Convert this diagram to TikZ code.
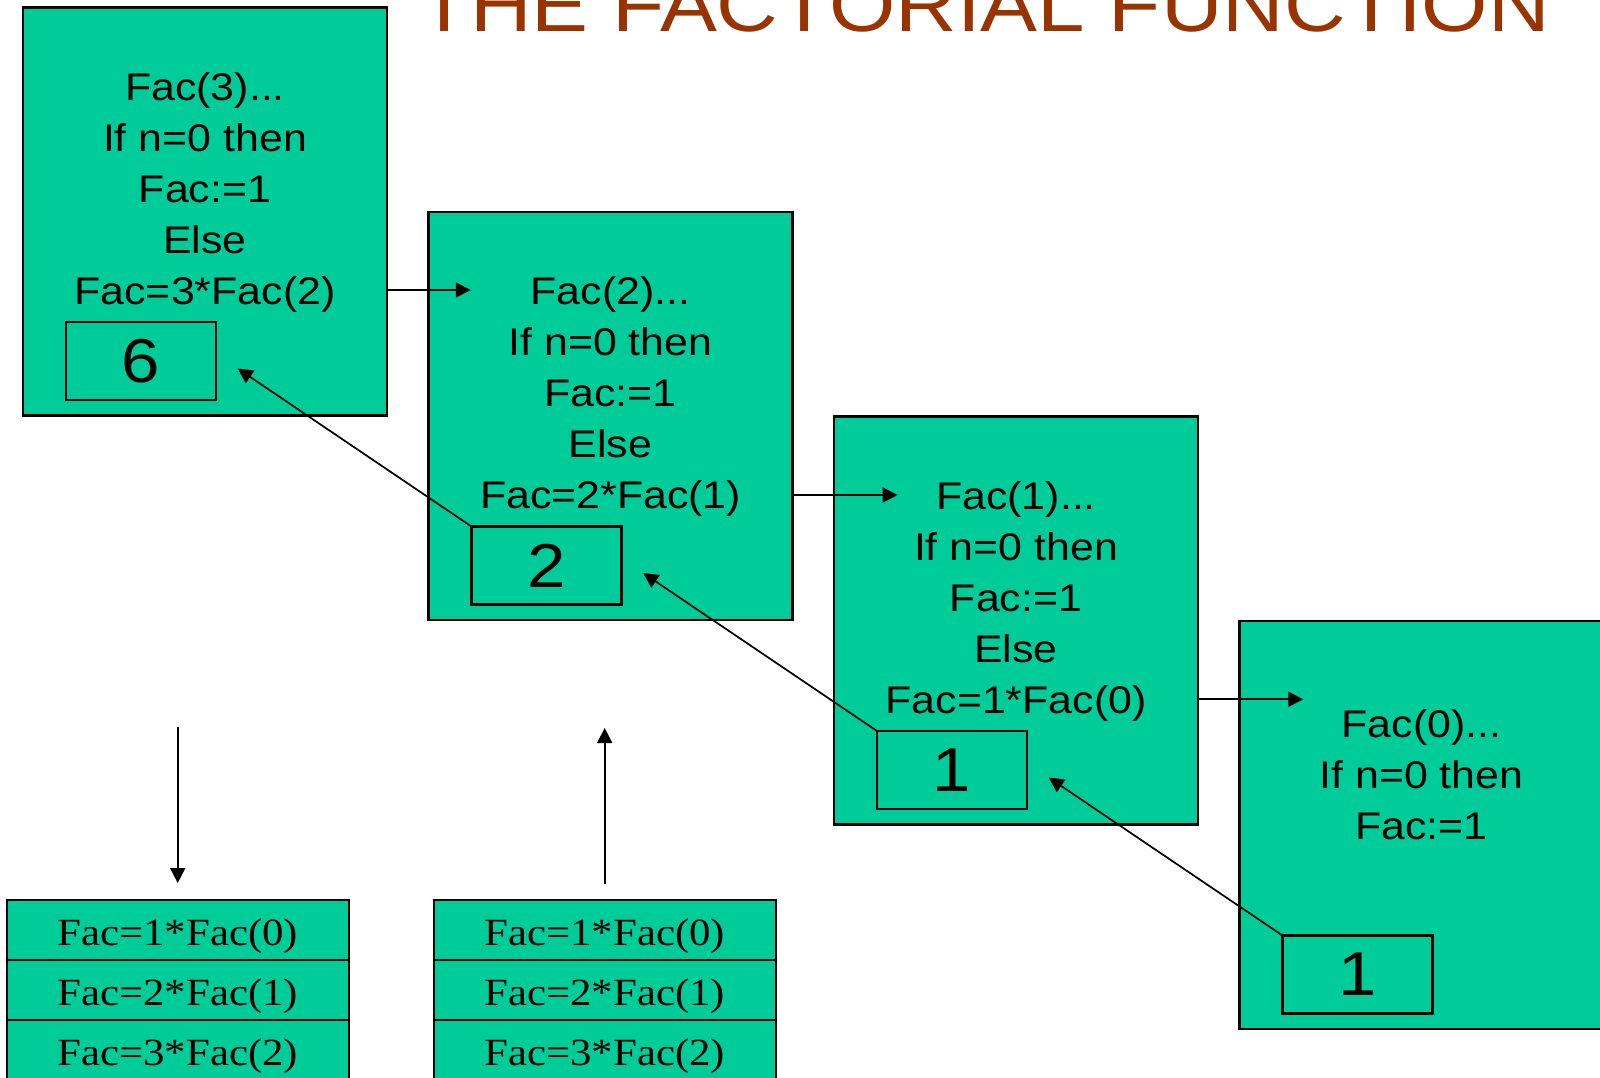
\documentclass[tikz,border=0pt]{standalone}
\usepackage{fontspec}
\usetikzlibrary{positioning,arrows.meta}
\newfontfamily\slidesans[FakeStretch=1.114]{Liberation Sans}
\newfontfamily\slideserif[FakeStretch=1.114]{Liberation Serif}
\definecolor{slidegreen}{HTML}{00CC99}
\definecolor{titlebrown}{HTML}{993300}
\tikzset{
  frame/.style={draw,rectangle,line width=2.2pt,fill=slidegreen,minimum width=364pt,minimum height=408pt,inner sep=0pt,outer sep=0pt,anchor=north west},
  result/.style={draw,rectangle,line width=2.2pt,minimum width=150pt,minimum height=78pt,inner sep=0pt,outer sep=0pt,anchor=north west,font=\slidesans\fontsize{62}{62}\selectfont},
  code/.style={align=center,anchor=base,inner sep=0pt,font=\slidesans\fontsize{38.5}{51}\selectfont},
  stackrow/.style={draw,rectangle,line width=2.2pt,fill=slidegreen,minimum width=342pt,minimum height=60pt,inner sep=0pt,outer sep=0pt,text height=30pt,text depth=0pt,font=\slideserif\fontsize{38.5}{40}\selectfont}
}
\begin{document}
\begin{tikzpicture}[x=1pt,y=-1pt,line width=1.7pt,>={Triangle[length=15pt,width=15pt]}]
\useasboundingbox (0,0) rectangle (1600,1077);
\clip (0,0) rectangle (1600,1077);
\fill[white] (0,0) rectangle (1600,1077);
\node (title) [anchor=base,inner sep=0pt,text=titlebrown,font=\slidesans\fontsize{76.6}{80}\selectfont] at (984,31) {THE FACTORIAL FUNCTION};

% the four calls
\node (f3) [frame] at (23,7.5) {};
\node (f2) [frame] at ([shift={(405.5,204.5)}]f3.north west) {};
\node (f1) [frame] at ([shift={(405.5,204.5)}]f2.north west) {};
\node (f0) [frame] at ([shift={(405.5,204.5)}]f1.north west) {};

% base = last line
\node (code3) [code] at ([shift={(0,296.5)}]f3.north) {Fac(3)...\\If n=0 then\\Fac:=1\\Else\\Fac=3*Fac(2)};
\node (code2) [code] at ([shift={(0,296.5)}]f2.north) {Fac(2)...\\If n=0 then\\Fac:=1\\Else\\Fac=2*Fac(1)};
\node (code1) [code] at ([shift={(0,296.5)}]f1.north) {Fac(1)...\\If n=0 then\\Fac:=1\\Else\\Fac=1*Fac(0)};
\node (code0) [code] at ([shift={(0,218.7)}]f0.north) {Fac(0)...\\If n=0 then\\Fac:=1};

\node (r3) [result] at ([shift={(43,314.5)}]f3.north west) {6};
\node (r2) [result] at ([shift={(43,314.5)}]f2.north west) {2};
\node (r1) [result] at ([shift={(43,314.5)}]f1.north west) {1};
\node (r0) [result] at ([shift={(43,314.5)}]f0.north west) {1};

% calls going in
\coordinate (in2) at ([shift={(42.3,78)}]f2.north west);
\coordinate (in1) at ([shift={(63.7,78.5)}]f1.north west);
\coordinate (in0) at ([shift={(63.8,78.3)}]f0.north west);
\draw [->] (f3.east |- in2) -- (in2);
\draw [->] (f2.east |- in1) -- (in1);
\draw [->] (f1.east |- in0) -- (in0);

% values coming back
\coordinate (back3) at ([shift={(21.7,7.5)}]r3.east);
\coordinate (back2) at ([shift={(21.7,7.5)}]r2.east);
\coordinate (back1) at ([shift={(21.7,7.5)}]r1.east);
\draw [->] (r2.north west) -- (back3);
\draw [->] (r1.north west) -- (back2);
\draw [->] (r0.north west) -- (back1);

% the stack
\node (sa1) [stackrow,anchor=north west] at (6.7,900) {Fac=1*Fac(0)};
\node (sa2) [stackrow,below=0pt of sa1] {Fac=2*Fac(1)};
\node (sa3) [stackrow,below=0pt of sa2] {Fac=3*Fac(2)};
\node (sb1) [stackrow,anchor=north west] at (433.7,900) {Fac=1*Fac(0)};
\node (sb2) [stackrow,below=0pt of sb1] {Fac=2*Fac(1)};
\node (sb3) [stackrow,below=0pt of sb2] {Fac=3*Fac(2)};

\coordinate (pushtop) at ([shift={(0,-173)}]sa1.north);
\coordinate (pushtip) at ([shift={(0,-17)}]sa1.north);
\coordinate (popfoot) at ([shift={(0,-16)}]sb1.north);
\coordinate (poptip) at ([shift={(0,-172)}]sb1.north);
\draw [->] (pushtop) -- (pushtip);
\draw [->] (popfoot) -- (poptip);
\end{tikzpicture}
\end{document}
